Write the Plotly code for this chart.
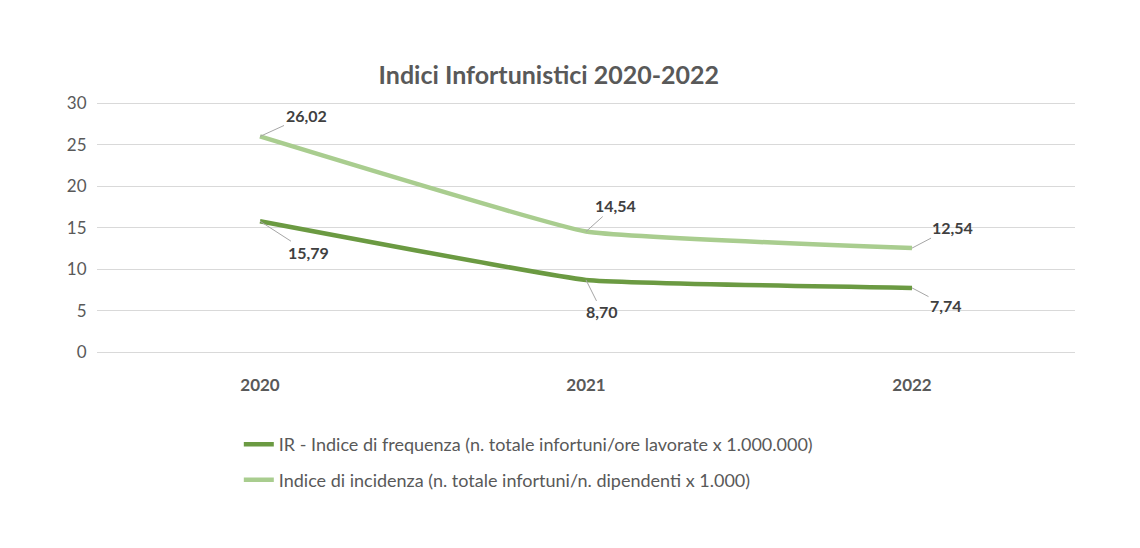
import plotly.graph_objects as go

years = ["2020", "2021", "2022"]
freq_values = [15.79, 8.70, 7.74]
inc_values = [26.02, 14.54, 12.54]
freq_labels = ["15,79", "8,70", "7,74"]
inc_labels = ["26,02", "14,54", "12,54"]
freq_name = "IR - Indice di frequenza (n. totale infortuni/ore lavorate x 1.000.000)"
inc_name = "Indice di incidenza (n. totale infortuni/n. dipendenti x 1.000)"

dark = "#6b9a42"
light = "#a9cd8f"
grey = "#595959"
font_family = "Lato, 'Open Sans', sans-serif"

fig = go.Figure()
fig.add_trace(go.Scatter(x=years, y=freq_values, mode="lines", name=freq_name, legendgroup="a",
                         line=dict(color=dark, width=4.5, shape="spline", smoothing=0.3)))
fig.add_trace(go.Scatter(x=years, y=inc_values, mode="lines", name=inc_name, legendgroup="b",
                         line=dict(color=light, width=4.5, shape="spline", smoothing=0.3)))

# label offsets in pixels (category axis annotations use category serial numbers)
freq_offsets = [(48, 31), (16, 32), (34, 18)]
inc_offsets = [(46, -21), (29, -26), (40, -21)]
for series_vals, series_labs, offs in ((freq_values, freq_labels, freq_offsets),
                                       (inc_values, inc_labels, inc_offsets)):
    for i, (v, lab, (ax, ay)) in enumerate(zip(series_vals, series_labs, offs)):
        fig.add_annotation(x=i, y=v, xref="x", yref="y", text="<b>%s</b>" % lab,
                           showarrow=True, arrowhead=0, arrowwidth=1, arrowcolor="#a6a6a6",
                           ax=ax, ay=ay,
                           font=dict(size=16, color="#404040", family=font_family))

fig.update_layout(
    width=1140, height=548,
    paper_bgcolor="white", plot_bgcolor="white",
    margin=dict(l=89, r=73, t=93, b=204),
    font=dict(family=font_family, color=grey, size=16),
    title=dict(text="<b>Indici Infortunistici 2020-2022</b>", x=0.462, xref="paper",
               xanchor="center", y=0.878, yanchor="middle",
               font=dict(size=25, color=grey, family=font_family)),
    showlegend=True,
    legend=dict(orientation="v", x=0.145, xanchor="left", y=-0.295, yanchor="top",
                font=dict(size=18, color=grey, family=font_family),
                traceorder="grouped", tracegroupgap=9),
)
fig.update_xaxes(type="category", showgrid=False, showline=False,
                 ticks="outside", ticklen=18, tickcolor="white",
                 tickfont=dict(size=17, color=grey),
                 tickprefix="<b>", ticksuffix="</b>", range=[-0.5, 2.5])
fig.update_yaxes(range=[0, 30.3], dtick=5, showgrid=True, gridcolor="#d9d9d9", gridwidth=1,
                 zeroline=True, zerolinecolor="#d9d9d9", zerolinewidth=1,
                 showline=False, tickfont=dict(size=17, color=grey),
                 ticks="outside", ticklen=6, tickcolor="white")

fig.write_html("out.html")
